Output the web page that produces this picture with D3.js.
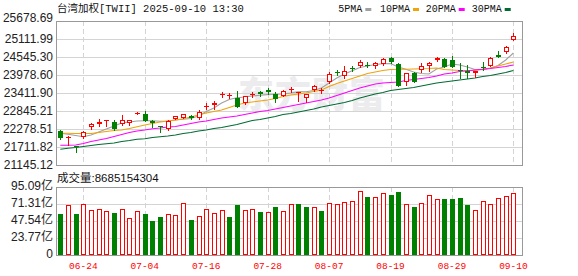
<!DOCTYPE html>
<html><head><meta charset="utf-8">
<script src="https://cdn.jsdelivr.net/npm/d3@7/dist/d3.min.js"></script>
<style>body{margin:0;background:#fff;overflow:hidden}</style>
</head><body>
<svg id="c" width="578" height="276"></svg>
<script>
const dates = ["06-19","06-20","06-23","06-24","06-25","06-26","06-27","06-30",
"07-01","07-02","07-03","07-04","07-07","07-08","07-09","07-10","07-11","07-14","07-15","07-16","07-17","07-18","07-21","07-22","07-23","07-24","07-25","07-28","07-29","07-30","07-31",
"08-01","08-04","08-05","08-06","08-07","08-08","08-11","08-12","08-13","08-14","08-15","08-18","08-19","08-20","08-21","08-22","08-25","08-26","08-27","08-28","08-29",
"09-01","09-02","09-03","09-04","09-05","09-08","09-09","09-10"];
const open = [22216,21986,21743,22036,22351,22426,22521,22489,22436,22477,22773,22741,22540,22363,22269,22584,22625,22697,22634,22981,23033,23362,23333,23264,23088,23362,23453,23506,23390,23327,23519,23403,23264,23506,23500,23749,24067,23957,24193,24262,24300,24271,24315,24523,24315,23749,24032,24136,24247,24451,24482,24451,24130,24120,24051,24215,24271,24624,24687,25065];
const high = [22247,22058,21753,22216,22452,22584,22556,22562,22719,22570,22823,22836,22552,22382,22552,22688,22751,22719,22877,23107,23159,23453,23421,23475,23317,23434,23484,23560,23453,23491,23610,23459,23396,23664,23579,24064,24136,24262,24262,24451,24379,24397,24523,24555,24347,24051,24082,24366,24379,24555,24523,24577,24342,24284,24111,24379,24530,24744,24901,25310];
const low = [21973,21775,21539,22005,22279,22382,22382,22247,22404,22414,22751,22540,22332,22194,22238,22578,22615,22593,22593,22899,22908,23276,23245,22971,23081,23286,23327,23371,23129,23317,23434,23170,23138,23475,23421,23717,23988,23894,24114,24221,24221,24209,24284,24372,23632,23673,23758,24082,24114,24429,24221,24215,23875,23875,23916,24136,24253,24555,24671,25065];
const close = [22005,22036,21702,22175,22426,22508,22552,22263,22556,22565,22792,22540,22467,22348,22530,22678,22741,22634,22823,23012,23088,23374,23346,22981,23308,23377,23371,23434,23214,23475,23532,23453,23380,23642,23513,24001,24051,24105,24177,24388,24287,24347,24482,24379,23642,24028,23768,24271,24341,24504,24240,24228,24114,24032,24105,24199,24504,24561,24870,25216];
const ma5 = [22143,22112,22074,22036,22090,22184,22279,22373,22467,22499,22530,22540,22540,22521,22530,22562,22584,22609,22688,22829,22940,23097,23207,23264,23286,23317,23340,23365,23374,23380,23412,23453,23453,23491,23569,23727,23884,24010,24114,24215,24262,24309,24334,24341,24230,24158,24073,24026,24010,24168,24230,24325,24293,24230,24152,24145,24190,24278,24451,24671];
const ma10 = [22143,22143,22137,22137,22137,22168,22201,22231,22247,22294,22348,22404,22452,22499,22530,22562,22600,22656,22719,22782,22829,22877,22955,23034,23097,23129,23160,23192,23239,23302,23349,23380,23412,23459,23506,23617,23711,23790,23868,23947,24026,24073,24120,24152,24158,24158,24168,24177,24183,24199,24152,24136,24120,24111,24127,24158,24199,24262,24325,24388];
const ma20 = [21765,21769,21775,21822,21885,21932,21979,22042,22105,22168,22216,22247,22285,22310,22342,22357,22404,22452,22499,22530,22578,22625,22656,22688,22735,22782,22829,22861,22908,22955,23003,23050,23097,23144,23192,23255,23333,23412,23491,23569,23632,23695,23727,23743,23758,23805,23837,23868,23900,23947,24010,24042,24089,24111,24136,24158,24183,24215,24246,24293];
const ma30 = [21639,21671,21696,21728,21759,21791,21816,21838,21885,21916,21954,21970,22011,22033,22058,22090,22137,22168,22216,22247,22294,22326,22373,22420,22483,22546,22578,22625,22672,22735,22767,22814,22861,22908,22971,23018,23066,23113,23176,23255,23317,23380,23428,23491,23522,23554,23585,23632,23680,23727,23758,23790,23821,23853,23884,23931,23963,24010,24057,24120];
const volume = [57.3,69.5,57.3,70.9,62.5,63.9,61.1,58.7,63.9,51.3,61.1,57.3,47.5,53.1,56.9,55.5,72.3,48.9,54.1,63.9,58.3,62.5,53.1,69.9,62.5,63.9,60.1,59.7,67.1,61.5,70.9,71.3,67.1,66.7,61.5,72.3,70.9,73.7,75.5,89.1,81.1,80.7,86.3,83.9,88.1,70.9,67.1,72.3,83.5,78.3,78.3,78.3,79.7,69.9,62.9,75.5,70.9,79.3,82.1,86.85];
const volDir = [-1,1,-1,1,1,1,1,-1,1,1,1,-1,-1,-1,1,1,1,-1,1,1,1,1,-1,-1,1,1,-1,1,-1,1,1,-1,-1,1,-1,1,1,1,1,1,-1,1,1,-1,-1,1,-1,1,1,1,-1,-1,-1,-1,1,1,1,1,1,1];
const priceTicks = [21145.12,21711.82,22278.51,22845.21,23411.90,23978.60,24545.30,25111.99,25678.69];
const volTicks = [0,23.77,47.54,71.31,95.09];
const volTickLabels = ["0","23.77亿","47.54亿","71.31亿","95.09亿"];
const xTickLabels = ["06-24","07-04","07-16","07-28","08-07","08-19","08-29","09-10"];
const titleText = "台湾加权[TWII] 2025-09-10 13:30";
const volText = "成交量:8685154304";
const maNames = ["5PMA","10PMA","20PMA","30PMA"];
const watermark = "东方财富";

const RED = "#ff0000", GREEN = "#008000", GRID = "#d4d4d4", BORDER = "#999";
const maColors = ["#a0a0a0", "#f0a30a", "#ff00ff", "#006b33"];
const maSeries = [ma5, ma10, ma20, ma30];

const svg = d3.select("#c");
const L = 56, R = 522, PT = 21, PB = 165, VT = 187, VB = 255;

const x = d3.scalePoint().domain(dates).range([60.3, 513.4]);
const y = d3.scaleLinear().domain([priceTicks[0], priceTicks[priceTicks.length-1]]).range([PB, PT]);
const yv = d3.scaleLinear().domain([0, volTicks[volTicks.length-1]]).range([VB, VT]);
const px = v => Math.round(v);

svg.append("rect").attr("width",578).attr("height",276).attr("fill","#fff");

// watermark
svg.append("text").attr("x",238).attr("y",108).attr("font-family","'Noto Sans CJK SC'")
  .attr("font-size",36).attr("font-weight",900).attr("fill","#ececef").attr("letter-spacing",1)
  .text(watermark);

// horizontal grid
const g = svg.append("g").attr("shape-rendering","crispEdges");
g.selectAll(".hp").data(priceTicks.slice(1,-1)).join("line")
  .attr("x1",L).attr("x2",R).attr("y1",d=>px(y(d))+0.5).attr("y2",d=>px(y(d))+0.5)
  .attr("stroke",GRID);
g.selectAll(".hv").data(volTicks.slice(1,-1)).join("line")
  .attr("x1",L).attr("x2",R).attr("y1",d=>px(yv(d))+0.5).attr("y2",d=>px(yv(d))+0.5)
  .attr("stroke",GRID);
// vertical dashed grid
[[PT,PB],[VT,VB]].forEach(([a,b])=>{
  g.append("g").selectAll("line").data(xTickLabels).join("line")
    .attr("x1",d=>px(x(d))+0.5).attr("x2",d=>px(x(d))+0.5).attr("y1",a).attr("y2",b)
    .attr("stroke",GRID).attr("stroke-dasharray","5,3");
});

// MA lines
maSeries.forEach((s,k)=>{
  const line = d3.line().x((d,i)=>x(dates[i])).y(d=>y(d));
  svg.append("path").attr("d",line(s)).attr("fill","none").attr("stroke",maColors[k])
    .attr("stroke-width",1.1);
});

// candles
const cg = svg.append("g").attr("shape-rendering","crispEdges");
dates.forEach((d,i)=>{
  const cx = px(x(d));
  const up = close[i] >= open[i];
  const col = up ? RED : GREEN;
  const yH = px(y(high[i])), yL = px(y(low[i]));
  const yT = px(y(Math.max(open[i],close[i]))), yB = px(y(Math.min(open[i],close[i])));
  cg.append("line").attr("x1",cx+0.5).attr("x2",cx+0.5).attr("y1",yH).attr("y2",yL+1).attr("stroke",col);
  const h = yB - yT;
  if (up && h >= 2) {
    cg.append("rect").attr("x",cx-1.5).attr("y",yT+0.5).attr("width",4).attr("height",h-1)
      .attr("fill","#fff").attr("stroke",col);
  } else {
    cg.append("rect").attr("x",cx-2).attr("y",yT).attr("width",5).attr("height",Math.max(1,h))
      .attr("fill",col);
  }
});

// volume bars
const vg = svg.append("g").attr("shape-rendering","crispEdges");
dates.forEach((d,i)=>{
  const cx = px(x(d));
  const top = px(yv(volume[i]));
  if (volDir[i] > 0) {
    vg.append("rect").attr("x",cx-1.5).attr("y",top+0.5).attr("width",4).attr("height",VB-top-1)
      .attr("fill","#fff").attr("stroke",RED);
  } else {
    vg.append("rect").attr("x",cx-2).attr("y",top).attr("width",5).attr("height",VB-top).attr("fill",GREEN);
  }
});

// borders
const bg = svg.append("g").attr("shape-rendering","crispEdges").attr("fill","none").attr("stroke",BORDER);
bg.append("rect").attr("x",L+0.5).attr("y",PT+0.5).attr("width",R-L).attr("height",PB-PT);
bg.append("rect").attr("x",L+0.5).attr("y",VT+0.5).attr("width",R-L).attr("height",VB-VT);

// price axis labels
svg.append("g").selectAll("text").data(priceTicks).join("text")
  .attr("x",53).attr("y",(d,i)=> y(d) + (i===priceTicks.length-1 ? -3.3 : 0))
  .attr("dy","0.36em").attr("text-anchor","end")
  .attr("font-family","'Liberation Sans', Arial, sans-serif").attr("font-size",12).attr("fill","#222")
  .text(d=>d.toFixed(2));

// volume axis labels
svg.append("g").selectAll("text").data(volTicks).join("text")
  .attr("x",53).attr("y",d=>yv(d)-1.5)
  .attr("dy","0.36em").attr("text-anchor","end")
  .attr("font-family","'Liberation Sans', 'Noto Sans CJK SC', sans-serif").attr("font-size",12).attr("fill","#222")
  .text((d,i)=>volTickLabels[i]);

// x labels
svg.append("g").selectAll("text").data(xTickLabels).join("text")
  .attr("x",d=>x(d)).attr("y",269).attr("text-anchor","middle")
  .attr("font-family","'Liberation Mono', monospace").attr("font-size",9.5).attr("fill",RED)
  .text(d=>d);

// title
svg.append("text").attr("x",57).attr("y",12)
  .attr("font-family","'Liberation Mono', 'Noto Sans CJK SC', monospace").attr("font-size",10.5).attr("fill","#111")
  .text(titleText);

// volume title
svg.append("text").attr("x",57).attr("y",181.5)
  .attr("font-family","'Liberation Sans', 'Noto Sans CJK SC', sans-serif").attr("font-size",11.5).attr("fill","#111")
  .text(volText);

// legend
const legX = [338.3, 380, 425.7, 471.7];
maNames.forEach((n,k)=>{
  const t = svg.append("text").attr("x",legX[k]).attr("y",12)
    .attr("font-family","'Liberation Mono', monospace").attr("font-size",10).attr("fill","#111").text(n);
  const w = t.node().getComputedTextLength();
  svg.append("rect").attr("x",legX[k]+w+3).attr("y",8).attr("width",6).attr("height",3).attr("fill",maColors[k]);
});
</script>
</body></html>
